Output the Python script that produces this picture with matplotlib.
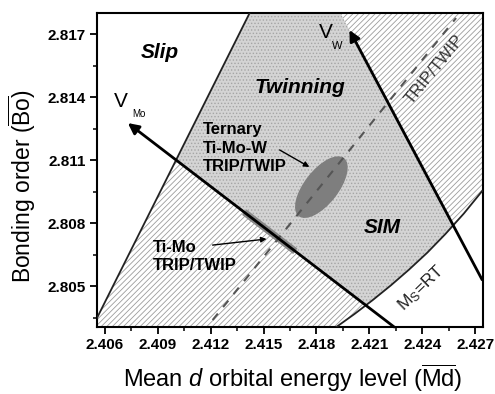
import numpy as np
import matplotlib
matplotlib.use("Agg")
import matplotlib.pyplot as plt
from matplotlib.patches import Polygon, Ellipse, Rectangle
from matplotlib.transforms import Affine2D, ScaledTranslation

plt.rcParams['font.family'] = ['Liberation Sans', 'DejaVu Sans']
plt.rcParams['mathtext.fontset'] = 'custom'
plt.rcParams['mathtext.rm'] = 'Liberation Sans'
plt.rcParams['mathtext.it'] = 'Liberation Sans:italic'
plt.rcParams['mathtext.bf'] = 'Liberation Sans:bold'
plt.rcParams['hatch.linewidth'] = 0.6

# axis range and ticks
x_lim = (2.40555, 2.42745)
y_lim = (2.80305, 2.81800)
x_ticks = [2.406, 2.409, 2.412, 2.415, 2.418, 2.421, 2.424, 2.427]
y_ticks = [2.805, 2.808, 2.811, 2.814, 2.817]
x_tick_labels = ["2.406", "2.409", "2.412", "2.415", "2.418", "2.421", "2.424", "2.427"]
y_tick_labels = ["2.805", "2.808", "2.811", "2.814", "2.817"]

# boundary lines
slip_x = [2.40555, 2.41421]
slip_y = [2.80348, 2.81800]
trip_x = [2.41211, 2.42592]
trip_y = [2.80338, 2.81776]
vmo_x = [2.42241, 2.40730]   # start -> arrow tip
vmo_y = [2.80305, 2.81276]
vw_x = [2.42740, 2.41987]
vw_y = [2.80530, 2.81719]
ms_x = [2.41913, 2.42016, 2.42119, 2.42222, 2.42325, 2.42429, 2.42532, 2.42636, 2.42740]
ms_y = [2.80305, 2.80367, 2.80433, 2.80503, 2.80578, 2.80659, 2.80748, 2.80845, 2.80952]

# Ti-Mo segment on the V_Mo line, ternary alloy ellipse centre
band_x = [2.4139, 2.4168]
ellipse_xy = (2.41828, 2.80971)


def along(xs, ys, t):
    return xs[0] + t * (xs[1] - xs[0]), ys[0] + t * (ys[1] - ys[0])


fig = plt.figure(figsize=(4.95, 3.94), dpi=100)
ax = fig.add_axes([97 / 495, 1 - 327 / 394, 386 / 495, 314 / 394])

# hatched background (TRIP/TWIP)
ax.add_patch(Rectangle((0, 0), 1, 1, transform=ax.transAxes, facecolor='white',
                       hatch='//////', edgecolor='#9c9c9c', lw=0, zorder=0))

# dotted wedge between V_Mo and V_W
wedge = [along(vmo_x, vmo_y, -0.1), along(vmo_x, vmo_y, 2.0),
         (along(vmo_x, vmo_y, 2.0)[0], y_lim[1] + 0.01),
         along(vw_x, vw_y, 2.0), along(vw_x, vw_y, -0.3)]
ax.add_patch(Polygon(wedge, closed=True, facecolor='#d4d4d4', hatch='.....',
                     edgecolor='#a5a5a5', lw=0, zorder=1))

# slip region (white)
ax.add_patch(Polygon([(slip_x[0], slip_y[0]), (slip_x[1], slip_y[1]),
                      (slip_x[0], slip_y[1])], closed=True,
                     facecolor='white', lw=0, zorder=2))
# below Ms = RT (white)
ax.add_patch(Polygon(list(zip(ms_x, ms_y)) + [(x_lim[1], y_lim[0])], closed=True,
                     facecolor='white', lw=0, zorder=2))

# Ti-Mo band
t0 = (band_x[0] - vmo_x[0]) / (vmo_x[1] - vmo_x[0])
t1 = (band_x[1] - vmo_x[0]) / (vmo_x[1] - vmo_x[0])
bx0, by0 = along(vmo_x, vmo_y, t0)
bx1, by1 = along(vmo_x, vmo_y, t1)
ax.plot([bx0, bx1], [by0, by1], color='#888888', lw=5, solid_capstyle='butt', zorder=3)

# ternary ellipse (size in points)
tr = Affine2D().scale(fig.dpi / 72) + ScaledTranslation(*ellipse_xy, ax.transData)
ax.add_patch(Ellipse((0, 0), 53, 24.5, angle=52, transform=tr,
                     facecolor='#7e7e7e', edgecolor='none', zorder=3))

# boundaries
ax.plot(trip_x, trip_y, color='#555555', lw=1.5, ls=(0, (4, 4)), zorder=4)
ax.plot(slip_x, slip_y, color='#222222', lw=1.3, zorder=5)
ax.plot(ms_x, ms_y, color='#222222', lw=1.3, zorder=5)

arrow = dict(arrowstyle='-|>', mutation_scale=16, lw=2.0, color='black',
             shrinkA=0, shrinkB=0)
ax.annotate('', xy=(vmo_x[1], vmo_y[1]), xytext=(vmo_x[0], vmo_y[0]),
            arrowprops=arrow, zorder=6)
ax.annotate('', xy=(vw_x[1], vw_y[1]), xytext=(vw_x[0], vw_y[0]),
            arrowprops=arrow, zorder=6)

small = dict(arrowstyle='-|>', mutation_scale=8, lw=1.0, color='black',
             shrinkA=0, shrinkB=0)
ax.annotate('', xy=(2.41517, 2.80724), xytext=(2.41211, 2.80695), arrowprops=small, zorder=6)
ax.annotate('', xy=(2.41760, 2.81067), xytext=(2.41591, 2.81148), arrowprops=small, zorder=6)

# region labels
big = dict(fontsize=15, fontweight='bold', fontstyle='italic', ha='center', va='center', zorder=7)
ax.text(2.40911, 2.81614, 'Slip', **big)
ax.text(2.41704, 2.81443, 'Twinning', **big)
ax.text(2.42173, 2.80781, 'SIM', **big)

ax.text(2.41155, 2.81157, 'Ternary\nTi-Mo-W\nTRIP/TWIP', fontsize=12, fontweight='bold',
        ha='left', va='center', linespacing=1.3, zorder=7)
ax.text(2.40872, 2.80640, 'Ti-Mo\nTRIP/TWIP', fontsize=12, fontweight='bold',
        ha='left', va='center', linespacing=1.3, zorder=7)

ax.text(2.40691, 2.81381, 'V', fontsize=15, ha='center', va='center', zorder=7)
ax.text(2.40792, 2.81319, 'Mo', fontsize=7, ha='center', va='center', zorder=7)
ax.text(2.41851, 2.81705, 'V', fontsize=15, ha='center', va='center', zorder=7)
ax.text(2.41919, 2.81643, 'W', fontsize=8, ha='center', va='center', zorder=7)

ax.text(2.42473, 2.81529, 'TRIP/TWIP', fontsize=12, rotation=51,
        ha='center', va='center', color='#333333', zorder=7)
ax.text(2.42394, 2.80490, r'M$_\mathregular{S}$=RT', fontsize=12.5, rotation=44,
        ha='center', va='center', color='#222222', zorder=7)

# axes styling
ax.set_xticks(x_ticks)
ax.set_xticklabels(x_tick_labels)
ax.set_yticks(y_ticks)
ax.set_yticklabels(y_tick_labels)
ax.set_xticks(list(np.array(x_ticks[:-1]) + 0.0015), minor=True)
ax.set_yticks(list(np.array(y_ticks) - 0.0015), minor=True)
ax.set_xlim(*x_lim)
ax.set_ylim(*y_lim)
ax.tick_params(which='major', direction='out', length=5, width=1.3, labelsize=11, pad=3)
ax.tick_params(which='minor', direction='out', length=3, width=1.1)
for lab in ax.get_xticklabels() + ax.get_yticklabels():
    lab.set_fontweight('bold')
for s in ax.spines.values():
    s.set_linewidth(1.5)

fig.text(293 / 495, 1 - 378 / 394, r'Mean $\mathit{d}$ orbital energy level ($\overline{\mathrm{Md}}$)',
         fontsize=17, ha='center', va='center')
fig.text(22 / 495, 1 - 186 / 394, r'Bonding order ($\overline{\mathrm{Bo}}$)',
         fontsize=16.5, ha='center', va='center', rotation=90)

fig.savefig('out.png', dpi=100)
